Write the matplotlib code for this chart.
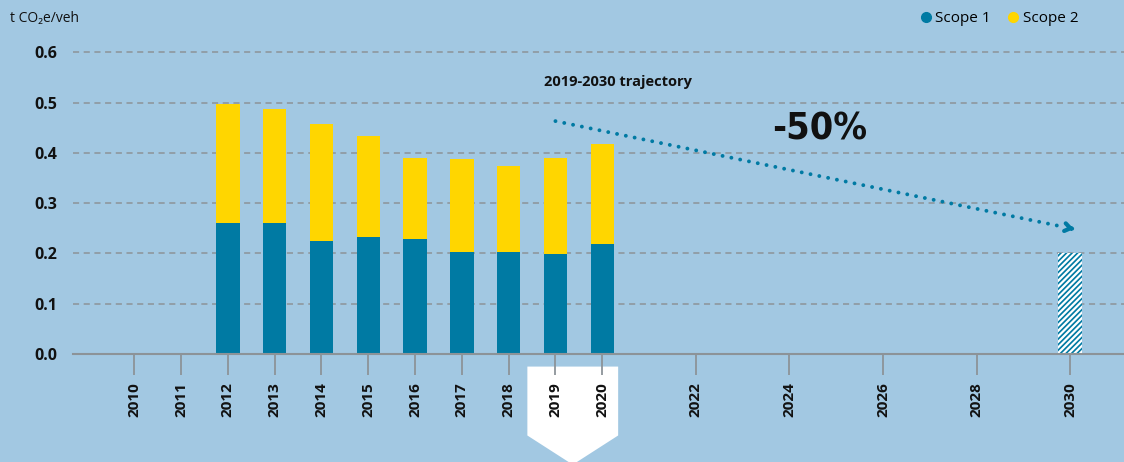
import matplotlib
matplotlib.use("Agg")
import matplotlib.pyplot as plt
from matplotlib.patches import Polygon
from matplotlib.lines import Line2D

# ---- data ----
years = [2012, 2013, 2014, 2015, 2016, 2017, 2018, 2019, 2020]
scope1 = [0.260, 0.260, 0.225, 0.233, 0.229, 0.203, 0.203, 0.199, 0.219]
total = [0.498, 0.487, 0.457, 0.434, 0.390, 0.387, 0.374, 0.390, 0.418]
scope2 = [t - s for t, s in zip(total, scope1)]
target_year = [2030]
target_value = [0.20]
tick_years = [2010, 2011, 2012, 2013, 2014, 2015, 2016, 2017, 2018, 2019, 2020,
              2022, 2024, 2026, 2028, 2030]
y_ticks = [0.0, 0.1, 0.2, 0.3, 0.4, 0.5, 0.6]
traj_x = [2019, 2030]
traj_y = [0.463, 0.250]

# ---- style ----
BG = "#a2c8e2"
TEAL = "#007aa3"
YELLOW = "#ffd600"
GRID = "#8c9398"
FONT = "Open Sans"
plt.rcParams["font.family"] = [FONT, "DejaVu Sans"]
plt.rcParams["hatch.linewidth"] = 1.6

fig = plt.figure(figsize=(11.24, 4.62), dpi=100, facecolor=BG)
ax = fig.add_axes([73 / 1124, 1 - 354 / 462, 1 - 73 / 1124, (354 - 20) / 462])
ax.set_facecolor(BG)

ax.set_xlim(2008.69, 2031.15)
ax.set_ylim(0, 334 / 503)

# white pointer behind 2019/2020 labels
ptr = Polygon([(2018.40, -0.025), (2020.34, -0.025), (2020.34, -0.162),
               (2019.37, -0.220), (2018.40, -0.162)],
              closed=True, facecolor="white", edgecolor="none",
              transform=ax.transData, clip_on=False, zorder=0)
ax.add_patch(ptr)

# grid
for yv in y_ticks[1:]:
    ax.axhline(yv, color=GRID, lw=1.1, ls=(0, (4, 3)), zorder=1)

w = 0.5
ax.bar(years, scope1, width=w, color=TEAL, zorder=3)
ax.bar(years, scope2, width=w, bottom=scope1, color=YELLOW, zorder=3)
ax.bar(target_year, target_value, width=w, facecolor=TEAL, edgecolor="white",
       linewidth=0, hatch="//////", zorder=3)

# trajectory
dx = traj_x[1] - traj_x[0]
dy = traj_y[1] - traj_y[0]
ax.plot([traj_x[0], traj_x[1] - 0.1], [traj_y[0], traj_y[1] - 0.1 * dy / dx],
        color=TEAL, lw=2.8, ls=(0, (0.01, 2.3)),
        dash_capstyle="round", zorder=4)
ax.annotate("", xy=(traj_x[1] + 0.08, traj_y[1] + 0.08 * dy / dx),
            xytext=(traj_x[1] - 0.02, traj_y[1] - 0.02 * dy / dx),
            arrowprops=dict(arrowstyle="->,head_length=0.4,head_width=0.28",
                            lw=3.0, color=TEAL), zorder=5)

ax.text(2018.75, 0.541, "2019-2030 trajectory", fontsize=10.5, fontweight="bold",
        ha="left", va="center", color="#111111")
ax.text(2024.65, 0.447, "-50%", fontsize=27, fontweight="bold",
        ha="center", va="center", color="#111111",
        family=["DejaVu Sans"], fontstretch="condensed")

# axes
for s in ["top", "right", "left"]:
    ax.spines[s].set_visible(False)
ax.spines["bottom"].set_color(GRID)
ax.spines["bottom"].set_linewidth(1.5)
ax.spines["bottom"].set_zorder(4)

ax.set_xticks(tick_years)
ax.set_xticklabels([str(y) for y in tick_years], rotation=90, fontsize=11,
                   fontweight="bold", color="#111111")
ax.tick_params(axis="x", length=15, width=1.3, color=GRID, pad=5)
ax.set_yticks(y_ticks)
ax.set_yticklabels([f"{v:.1f}" for v in y_ticks], fontsize=11.5,
                   fontweight="bold", color="#111111")
ax.tick_params(axis="y", length=0, pad=11)

fig.text(10 / 1124, 1 - 18 / 462, "t CO₂e/veh", fontsize=10, ha="left",
         va="center", color="#111111")

handles = [Line2D([], [], marker="o", ls="", color=TEAL, markersize=7),
           Line2D([], [], marker="o", ls="", color=YELLOW, markersize=7)]
fig.legend(handles, ["Scope 1", "Scope 2"], loc="center right",
           bbox_to_anchor=(1092 / 1124, 1 - 19 / 462), ncol=2, frameon=False,
           fontsize=11, handletextpad=0.1, columnspacing=1.0,
           handlelength=1.0)

fig.savefig("out.png", dpi=100, facecolor=BG)
